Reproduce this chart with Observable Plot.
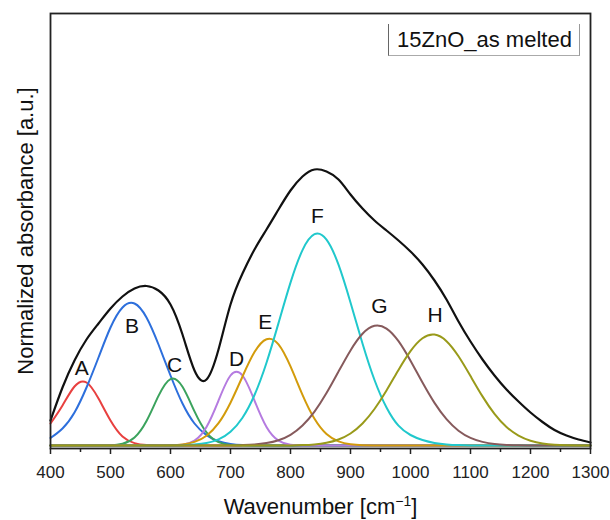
<!DOCTYPE html>
<html>
<head>
<meta charset="utf-8">
<script src="https://cdn.jsdelivr.net/npm/d3@7"></script>
<script src="https://cdn.jsdelivr.net/npm/@observablehq/plot@0.6"></script>
<style>
  body { margin: 0; background: #fff; }
  #wrap { position: relative; width: 610px; height: 520px; font-family: Arial, "Liberation Sans", sans-serif; }
  #legend { position: absolute; left: 388px; top: 24px; width: 192px; height: 32px; box-sizing: border-box;
            border-left: 1px solid #666; border-right: 1px solid #999; border-bottom: 1px solid #aaa;
            font-size: 22px; line-height: 31px; padding-left: 8px; color: #111; white-space: nowrap; }
</style>
</head>
<body>
<div id="wrap"><div id="legend"></div></div>
<script>
// ---- data ----
const wavenumber = [400, 420, 440, 460, 480, 500, 520, 540, 560, 580,
                    600, 620, 640, 660, 680, 700, 720, 740, 760, 780,
                    800, 820, 840, 860, 880, 900, 920, 940, 960, 980,
                    1000, 1020, 1040, 1060, 1080, 1100, 1120, 1140, 1160, 1180,
                    1200, 1220, 1240, 1260, 1280, 1300];

const measured = [25, 58, 85, 106, 122, 137, 149, 157, 159.5, 155,
                  141, 111, 75, 66, 96, 141, 172, 196, 216, 236,
                  255, 269, 276, 274, 266, 251, 237, 225, 215, 205,
                  194, 181, 165, 146, 124, 104, 86, 70, 56, 44,
                  33, 23.5, 15.5, 10, 6, 3];

const peakA = [22, 40, 59, 63, 47, 25, 9, 2.4, 0.5, 0.1,
               0, 0, 0, 0, 0, 0, 0, 0, 0, 0,
               0, 0, 0, 0, 0, 0, 0, 0, 0, 0,
               0, 0, 0, 0, 0, 0, 0, 0, 0, 0,
               0, 0, 0, 0, 0, 0];
const peakB = [7.5, 17, 33, 58, 88, 118, 138, 142, 128, 101,
               70, 42, 22, 10.4, 4.2, 1.5, 0.4, 0, 0, 0,
               0, 0, 0, 0, 0, 0, 0, 0, 0, 0,
               0, 0, 0, 0, 0, 0, 0, 0, 0, 0,
               0, 0, 0, 0, 0, 0];
const peakC = [0, 0, 0, 0, 0, 0.1, 1.7, 8, 24.5, 49.6,
               66.4, 58.7, 34.1, 13.1, 3.3, 0.6, 0.1, 0, 0, 0,
               0, 0, 0, 0, 0, 0, 0, 0, 0, 0,
               0, 0, 0, 0, 0, 0, 0, 0, 0, 0,
               0, 0, 0, 0, 0, 0];
const peakD = [0, 0, 0, 0, 0, 0, 0, 0, 0, 0,
               0, 0.8, 4.9, 18.5, 44.9, 70, 70, 44.9, 18.5, 4.9,
               0.8, 0.1, 0, 0, 0, 0, 0, 0, 0, 0,
               0, 0, 0, 0, 0, 0, 0, 0, 0, 0,
               0, 0, 0, 0, 0, 0];
const peakE = [0, 0, 0, 0, 0, 0, 0, 0, 0, 0,
               0.3, 1.1, 3.6, 9.8, 22.3, 42.8, 69, 93.4, 106.3, 101.2,
               79.1, 50.7, 26.7, 11.5, 4.1, 1.2, 0.3, 0.1, 0, 0,
               0, 0, 0, 0, 0, 0, 0, 0, 0, 0,
               0, 0, 0, 0, 0, 0];
const peakF = [0, 0, 0, 0, 0, 0, 0, 0, 0, 0,
               0, 0, 0.9, 2.5, 6.1, 13.8, 27.8, 50.5, 82.8, 122.4,
               162.9, 195.4, 211.3, 205.9, 180.8, 143, 102, 65.5, 38, 19.8,
               10.5, 5.5, 2.6, 1.1, 0.4, 0.1, 0, 0, 0, 0,
               0, 0, 0, 0, 0, 0];
const peakG = [0, 0, 0, 0, 0, 0, 0, 0, 0, 0,
               0, 0, 0, 0, 0, 0, 0.4, 1, 2.4, 5.3,
               10.7, 20, 33.9, 52.4, 73.9, 95.1, 111.7, 119.7, 116.9, 104.3,
               84.8, 62.9, 42.6, 26.3, 14.8, 7.6, 3.6, 1.5, 0.6, 0.2,
               0.1, 0, 0, 0, 0, 0];
const peakH = [0, 0, 0, 0, 0, 0, 0, 0, 0, 0,
               0, 0, 0, 0, 0, 0, 0, 0, 0, 0,
               0.1, 0.4, 1.1, 2.7, 6, 12, 22, 36.5, 55, 75.6,
               94.4, 107.3, 110.9, 104.3, 89.2, 69.4, 49.1, 31.6, 18.5, 9.9,
               4.8, 2.1, 0.8, 0.3, 0.1, 0];

const peakNames = ["A", "B", "C", "D", "E", "F", "G", "H"];
const labelWavenumber = [452, 536, 607, 710, 758, 845, 948, 1041];
const labelHeight = [77.5, 119, 80, 86, 123, 229, 139, 130.5];

const majorTicks = [400, 500, 600, 700, 800, 900, 1000, 1100, 1200, 1300];
const minorTicks = [450, 550, 650, 750, 850, 950, 1050, 1150, 1250];
const legendLabel = "15ZnO_as melted";
const xTitle = "Wavenumber [cm−1]";
const yTitle = "Normalized absorbance [a.u.]";

// ---- styles ----
const peakSeries = [peakA, peakB, peakC, peakD, peakE, peakF, peakG, peakH];
const peakColors = ["#e8403f", "#2d6fdc", "#3ba35d", "#b57be0", "#d39b0b", "#20c8cc", "#865a5c", "#999a1a"];
const font = "Arial, 'Liberation Sans', sans-serif";

const rowsFor = arr => wavenumber.map((w, i) => ({w, v: arr[i]}));
const labelRows = peakNames.map((n, i) => ({n, w: labelWavenumber[i], v: labelHeight[i]}));

const chart = Plot.plot({
  width: 610,
  height: 520,
  marginLeft: 50,
  marginRight: 20,
  marginTop: 13,
  marginBottom: 72,
  style: {fontFamily: font, color: "#222", background: "#fff", overflow: "visible"},
  x: {domain: [400, 1300], label: null},
  y: {domain: [-3, 432], axis: null},
  marks: [
    Plot.axisX({ticks: majorTicks, tickSize: 6, tickPadding: 11, fontSize: 17, label: null, strokeWidth: 1.5, tickFormat: d => String(d)}),
    Plot.axisX({ticks: minorTicks, tickSize: 4, tickFormat: () => "", label: null, strokeWidth: 1.5}),
    ...peakSeries.map((arr, i) => Plot.line(rowsFor(arr), {x: "w", y: "v", stroke: peakColors[i], strokeWidth: 2, curve: "natural"})),
    Plot.line(rowsFor(measured), {x: "w", y: "v", stroke: "#111", strokeWidth: 2.2, curve: "natural"}),
    Plot.text(labelRows, {x: "w", y: "v", text: "n", fontSize: 21, fill: "#111"}),
    Plot.text([xTitle], {frameAnchor: "bottom", dy: 65, fontSize: 22, fill: "#111"}),
    Plot.text([yTitle], {frameAnchor: "left", dx: -25, rotate: -90, textAnchor: "middle", fontSize: 22, fill: "#111"}),
    Plot.frame({stroke: "#222", strokeWidth: 1.8})
  ]
});

// superscript in the x title
d3.select(chart).selectAll("text").each(function() {
  if (this.textContent === xTitle) {
    const t = d3.select(this);
    t.text("Wavenumber [cm");
    t.append("tspan").attr("dy", -8).attr("font-size", 14).text("−1");
    t.append("tspan").attr("dy", 8).text("]");
  }
});

document.getElementById("wrap").prepend(chart);
chart.style.position = "absolute";
chart.style.left = "0";
chart.style.top = "0";
document.getElementById("legend").textContent = legendLabel;
</script>
</body>
</html>
